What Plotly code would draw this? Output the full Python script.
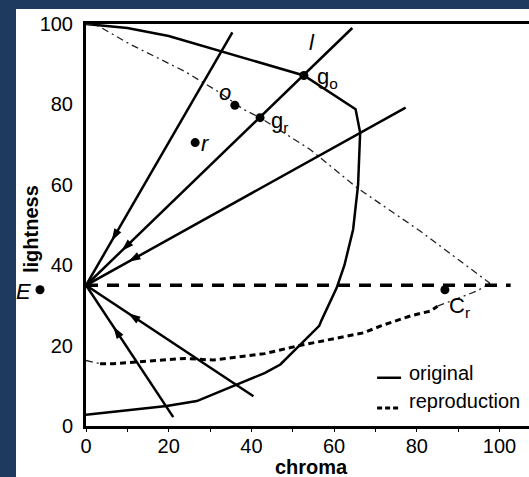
import math
import plotly.graph_objects as go

# ---------------- data ----------------
orig_c = [0, 10, 20, 33, 52.7, 65.2, 66.3, 65.8, 64.6, 62.5, 60.6, 57, 56.4, 47, 43.3, 26.8, 19.5, 0]
orig_l = [100, 99, 97, 93.1, 87.2, 78.8, 73, 60, 48.9, 40, 34.3, 26.4, 24.9, 15.3, 13.2, 6.2, 5, 2.8]

rep_up_c = [0, 3, 10.6, 18.7, 23.9, 32.4, 38, 42.1, 54.2, 65.5, 76.7, 80.8, 97.7]
rep_up_l = [100, 99.5, 95, 90.8, 88.2, 82.9, 78.8, 76.7, 68.8, 59.3, 51.4, 48.5, 35.5]

rep_lo_c = [0, 3.4, 6.6, 19.5, 24, 30.8, 43.2, 51.1, 59.2, 67.2, 71.3, 78.5, 83.3, 85, 94.6, 97.7]
rep_lo_l = [16.3, 15.5, 15.5, 16.5, 16.8, 16.4, 18, 19.9, 21.6, 23.2, 24.9, 27.4, 28.6, 29.8, 33.6, 35.5]

focus_c, focus_l = 0, 35
E_line_end = 102.7

ray_end_c = [35.4, 64.4, 77.3, 21.1, 40.5]
ray_end_l = [97.9, 99, 79.2, 2.2, 7.4]
arrow_tip_c = [6.2, 8.6, 10.2, 6.6, 10.2]

pt_names = ["g_o", "o", "g_r", "r", "C_r"]
pt_c = [52.7, 36.0, 42.1, 26.4, 86.8]
pt_l = [87.2, 79.8, 76.7, 70.5, 33.9]

x_ticks = [0, 20, 40, 60, 80, 100]
y_ticks = [0, 20, 40, 60, 80, 100]

FONT = "Liberation Sans, Arial, sans-serif"
XMAX = 443 / 4.135
PX_X = 443 / XMAX   # px per chroma unit
PX_Y = 402 / 100    # px per lightness unit


def px2paper(px, py):
    return (px - 86) / 443, (426 - py) / 402


fig = go.Figure()

fig.add_trace(go.Scatter(x=orig_c, y=orig_l, mode="lines",
                         line=dict(color="black", width=2.5), showlegend=False))
DD = "7px,4px,2px,4px"
fig.add_trace(go.Scatter(x=rep_up_c, y=rep_up_l, mode="lines",
                         line=dict(color="#222", width=1.3, dash=DD), showlegend=False))
fig.add_trace(go.Scatter(x=rep_lo_c[:2], y=rep_lo_l[:2], mode="lines",
                         line=dict(color="#222", width=1.3, dash=DD), showlegend=False))
fig.add_trace(go.Scatter(x=rep_lo_c[1:14], y=rep_lo_l[1:14], mode="lines",
                         line=dict(color="black", width=3, dash="6px,4px"), showlegend=False))
fig.add_trace(go.Scatter(x=rep_lo_c[13:], y=rep_lo_l[13:], mode="lines",
                         line=dict(color="#222", width=1.3, dash=DD), showlegend=False))

fig.add_trace(go.Scatter(x=[focus_c, E_line_end], y=[focus_l, focus_l], mode="lines",
                         line=dict(color="black", width=3.5, dash="12px,9px"), showlegend=False))

rx, ry = [], []
for c, l in zip(ray_end_c, ray_end_l):
    rx += [c, focus_c, None]
    ry += [l, focus_l, None]
fig.add_trace(go.Scatter(x=rx, y=ry, mode="lines",
                         line=dict(color="black", width=2.5), showlegend=False))

# arrowheads pointing toward the focal point
ah_x, ah_y, ah_ang = [], [], []
for c, l, tc in zip(ray_end_c, ray_end_l, arrow_tip_c):
    slope = (l - focus_l) / (c - focus_c)
    ah_x.append(tc)
    ah_y.append(focus_l + slope * tc)
    dx = (focus_c - c) * PX_X
    dy_up = (focus_l - l) * PX_Y
    ah_ang.append(math.degrees(math.atan2(dx, dy_up)))
fig.add_trace(go.Scatter(x=ah_x, y=ah_y, mode="markers",
                         marker=dict(symbol="arrow", size=13, angle=ah_ang, color="black",
                                     line=dict(width=0)),
                         showlegend=False))

fig.add_trace(go.Scatter(x=pt_c, y=pt_l, mode="markers",
                         marker=dict(color="black", size=9), cliponaxis=False, showlegend=False))

annotations = []


def lab(text, x, y, size=22, xanchor="center", yanchor="middle", **kw):
    annotations.append(dict(text=text, x=x, y=y, xref="x", yref="y", showarrow=False,
                            xanchor=xanchor, yanchor=yanchor,
                            font=dict(family=FONT, size=size, color="black"), **kw))


def plab(text, px, py, size=22, **kw):
    x, y = px2paper(px, py)
    annotations.append(dict(text=text, x=x, y=y, xref="paper", yref="paper", showarrow=False,
                            xanchor="center", yanchor="middle",
                            font=dict(family=FONT, size=size, color="black"), **kw))


lab("<i>l</i>", 54.7, 95.5)
lab("g<sub>o</sub>", 55.3, 86.5, xanchor="left")
lab("g<sub>r</sub>", 44.2, 75.5, xanchor="left")
lab("<i>o</i>", 33.6, 82.9)
lab("<i>r</i>", 29.0, 70.3)
lab("C<sub>r</sub>", 87.2, 29.6, xanchor="left")

lab("original", 77.6, 13.2, size=20, xanchor="left")
lab("reproduction", 77.6, 6.2, size=20, xanchor="left")

plab("<i>E</i>", 23.5, 291)
plab("<b>chroma</b>", 311, 467, size=20)
plab("<b>lightness</b>", 31, 229, size=20, textangle=-90)

ex0, ey0 = px2paper(35.5, 294.2)
ex1, ey1 = px2paper(44.5, 285.2)

shapes = [
    dict(type="rect", xref="paper", yref="paper", x0=(16 - 86) / 443, x1=1.01,
         y0=-0.2, y1=(426 - 9) / 402, fillcolor="white", line=dict(width=0), layer="below"),
    dict(type="circle", xref="paper", yref="paper", x0=ex0, x1=ex1, y0=ey0, y1=ey1,
         fillcolor="black", line=dict(width=0)),
    dict(type="line", xref="x", yref="y", x0=70.4, x1=76.2, y0=12.0, y1=12.0,
         line=dict(color="black", width=2.5)),
    dict(type="line", xref="x", yref="y", x0=70.4, x1=76.2, y0=4.5, y1=4.5,
         line=dict(color="black", width=3, dash="5px,3px")),
]

fig.update_layout(
    width=529, height=477,
    margin=dict(l=86, r=0, t=24, b=51),
    paper_bgcolor="#1f3a5f", plot_bgcolor="white",
    font=dict(family=FONT, size=20, color="black"),
    annotations=annotations, shapes=shapes, showlegend=False,
)
fig.update_xaxes(range=[0, XMAX], tickvals=x_ticks, ticks="",
                 minor=dict(dtick=10, tick0=0, ticks="outside", ticklen=3, tickcolor="black"),
                 showline=True, linewidth=3, linecolor="black", mirror=True,
                 showgrid=False, zeroline=False, tickfont=dict(size=20))
fig.update_yaxes(range=[0, 100], tickvals=y_ticks, ticks="", showline=True, linewidth=3,
                 linecolor="black", mirror=False, showgrid=False, zeroline=False,
                 tickfont=dict(size=20), ticklabelstandoff=6)

fig.write_html("out.html", config={"displayModeBar": False},
               post_script="document.body.style.margin='0';document.body.style.overflow='hidden';")
